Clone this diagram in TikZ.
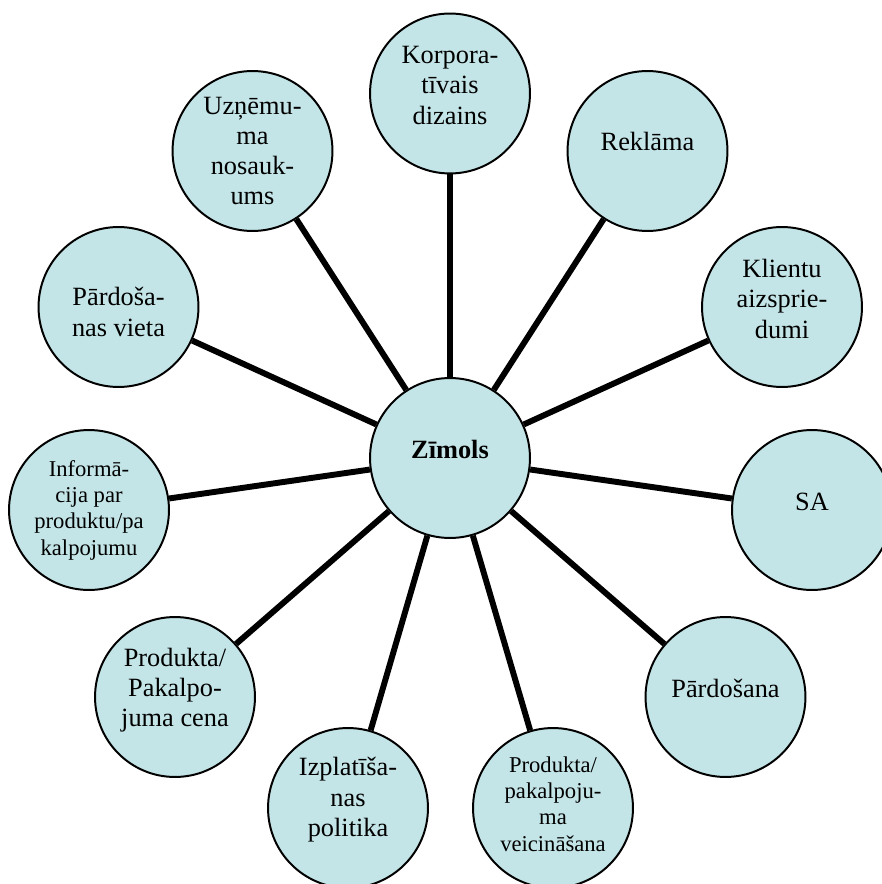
\documentclass[tikz,border=0pt]{standalone}
\usepackage{fontspec}
\setmainfont{Liberation Serif}
\definecolor{bubblefill}{RGB}{196,229,231}

\begin{document}
\begin{tikzpicture}[
  x=0.016cm, y=-0.016cm,
  bubble/.style={circle, draw, line width=0.9pt, fill=bubblefill,
    minimum size=2.56cm, inner sep=0pt},
  txt/.style={align=center, inner sep=0pt, font=\fontsize{12}{13.8}\selectfont},
  small/.style={txt, font=\fontsize{10.3}{12}\selectfont},
  spoke/.style={line width=2.7pt}
]
\useasboundingbox (0,0) rectangle (882,884);

% -------------------------
% Centre (text sits a little above the middle)
% -------------------------

\node[bubble, label={[txt, yshift=4pt]center:\textbf{Zīmols}}] (zim) at (450,458) {};

% -------------------------
% Outer circles
% -------------------------

\node[bubble, label={[txt, yshift=3.7pt]center:{Korpora-\\tīvais\\dizains}}] (korp) at (450,93.5) {};
\node[bubble, label={[txt, yshift=4.2pt]center:Reklāma}] (rekl) at (647.5,151) {};
\node[bubble, label={[txt, yshift=3.7pt]center:{Klientu\\aizsprie-\\dumi}}] (klient) at (782,307) {};
\node[bubble, label={[txt, yshift=3.7pt]center:SA}] (sa) at (812,510) {};
\node[bubble, label={[txt, yshift=4pt]center:Pārdošana}] (pard) at (725.5,697) {};
\node[bubble, label={[small, yshift=1.8pt]center:{Produkta/\\pakalpoju-\\ma\\veicināšana}}] (veic) at (553,808) {};
\node[bubble, label={[txt, yshift=3.7pt]center:{Izplatīša-\\nas\\politika}}] (izpl) at (348,808) {};
\node[bubble, label={[txt, yshift=3.2pt]center:{Produkta/\\Pakalpo-\\juma cena}}] (cena) at (175,697) {};
\node[bubble, label={[small]center:{Informā-\\cija par\\produktu/pa\\kalpojumu}}] (info) at (89,510) {};
\node[bubble, label={[txt, yshift=-2.3pt]center:{Pārdoša-\\nas vieta}}] (vieta) at (118.5,307) {};
\node[bubble, label={[txt]center:{Uzņēmu-\\ma\\nosauk-\\ums}}] (uzn) at (252.5,151) {};

% -------------------------
% Spokes
% -------------------------

\foreach \n in {korp, rekl, klient, sa, pard, veic, izpl, cena, info, vieta, uzn}
  \draw[spoke] (zim) -- (\n);

\end{tikzpicture}
\end{document}
